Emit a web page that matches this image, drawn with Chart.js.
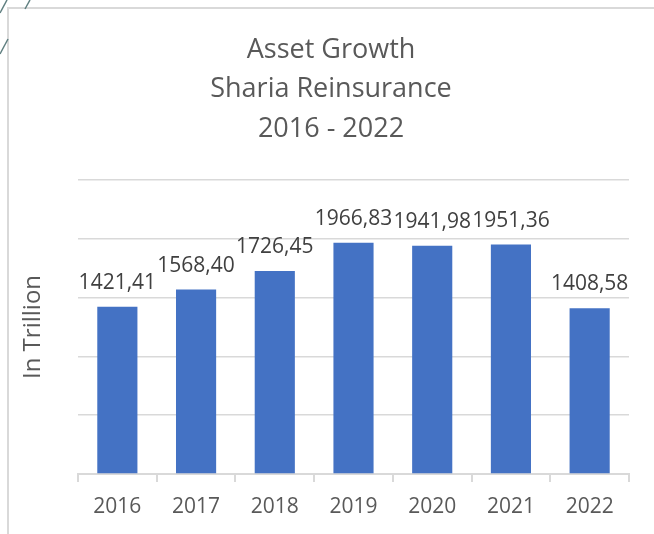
<!DOCTYPE html>
<html>
<head>
<meta charset="utf-8">
<script src="https://cdn.jsdelivr.net/npm/chart.js@4"></script>
<style>
  body { margin: 0; background: #fff; }
  #wrap { position: relative; width: 654px; height: 534px; overflow: hidden; }
  #frame { position: absolute; left: 7px; top: 7px; width: 700px; height: 600px;
           border-left: 2px solid #d9d9d9; border-top: 2px solid #d9d9d9; }
  #deco { position: absolute; left: 0; top: 0; }
  #chart { position: absolute; left: 0; top: 0; }
</style>
</head>
<body>
<div id="wrap">
  <div id="frame"></div>
  <svg id="deco" width="40" height="60">
    <line x1="0" y1="13" x2="7" y2="0" stroke="#5f7f80" stroke-width="1.5"/>
    <line x1="25" y1="9" x2="30" y2="0" stroke="#5f7f80" stroke-width="1.5"/>
    <line x1="0" y1="54" x2="8" y2="39" stroke="#5f7f80" stroke-width="1.5"/>
  </svg>
  <canvas id="chart" width="654" height="534"></canvas>
</div>
<script>
// data
const years = ['2016', '2017', '2018', '2019', '2020', '2021', '2022'];
const assets = [1421.41, 1568.40, 1726.45, 1966.83, 1941.98, 1951.36, 1408.58];
const titleLines = ['Asset Growth', 'Sharia Reinsurance', '2016 - 2022'];
const yMin = 0;
const yMax = 2500;
const yStep = 500;

const grey = '#595959';
const gridColor = '#d9d9d9';
const fontFamily = "'Open Sans', sans-serif";

// labels above bars, comma as decimal separator
const barLabels = {
  id: 'barLabels',
  afterDatasetsDraw(chart) {
    const ctx = chart.ctx;
    const meta = chart.getDatasetMeta(0);
    ctx.save();
    ctx.font = '21px ' + fontFamily;
    ctx.fillStyle = '#404040';
    ctx.textAlign = 'center';
    ctx.textBaseline = 'alphabetic';
    meta.data.forEach((bar, i) => {
      const txt = assets[i].toFixed(2).replace('.', ',');
      ctx.fillText(txt, bar.x, bar.y - 18);
    });
    ctx.restore();
  }
};

new Chart(document.getElementById('chart'), {
  type: 'bar',
  data: {
    labels: years,
    datasets: [{
      data: assets,
      backgroundColor: '#4472c4',
      barPercentage: 0.51,
      categoryPercentage: 1
    }]
  },
  options: {
    responsive: false,
    animation: false,
    // left/right padding chosen so the title is centred like the original
    layout: { padding: { left: 33, right: 25, top: 0, bottom: 0 } },
    plugins: {
      legend: { display: false },
      tooltip: { enabled: false },
      title: {
        display: true,
        text: titleLines,
        color: grey,
        font: { family: fontFamily, size: 27, weight: 'normal', lineHeight: 1.463 },
        padding: { top: 30.5, bottom: 31 }
      }
    },
    scales: {
      x: {
        grid: { display: true, drawOnChartArea: false, drawTicks: true, tickLength: 8, color: gridColor, lineWidth: 2 },
        border: { display: true, color: gridColor, width: 2 },
        ticks: { color: grey, font: { family: fontFamily, size: 21 }, padding: 12 },
        afterFit(scale) { scale.height = 60; }
      },
      y: {
        min: yMin,
        max: yMax,
        ticks: { display: false, stepSize: yStep },
        grid: { color: gridColor, drawTicks: false, lineWidth: 1.5 },
        border: { display: false },
        title: {
          display: true,
          text: 'In Trillion',
          color: grey,
          font: { family: fontFamily, size: 24 },
          padding: { top: -14.4, bottom: 0 }
        },
        afterFit(scale) { scale.width = 45; }
      }
    }
  },
  plugins: [barLabels]
});
</script>
</body>
</html>
